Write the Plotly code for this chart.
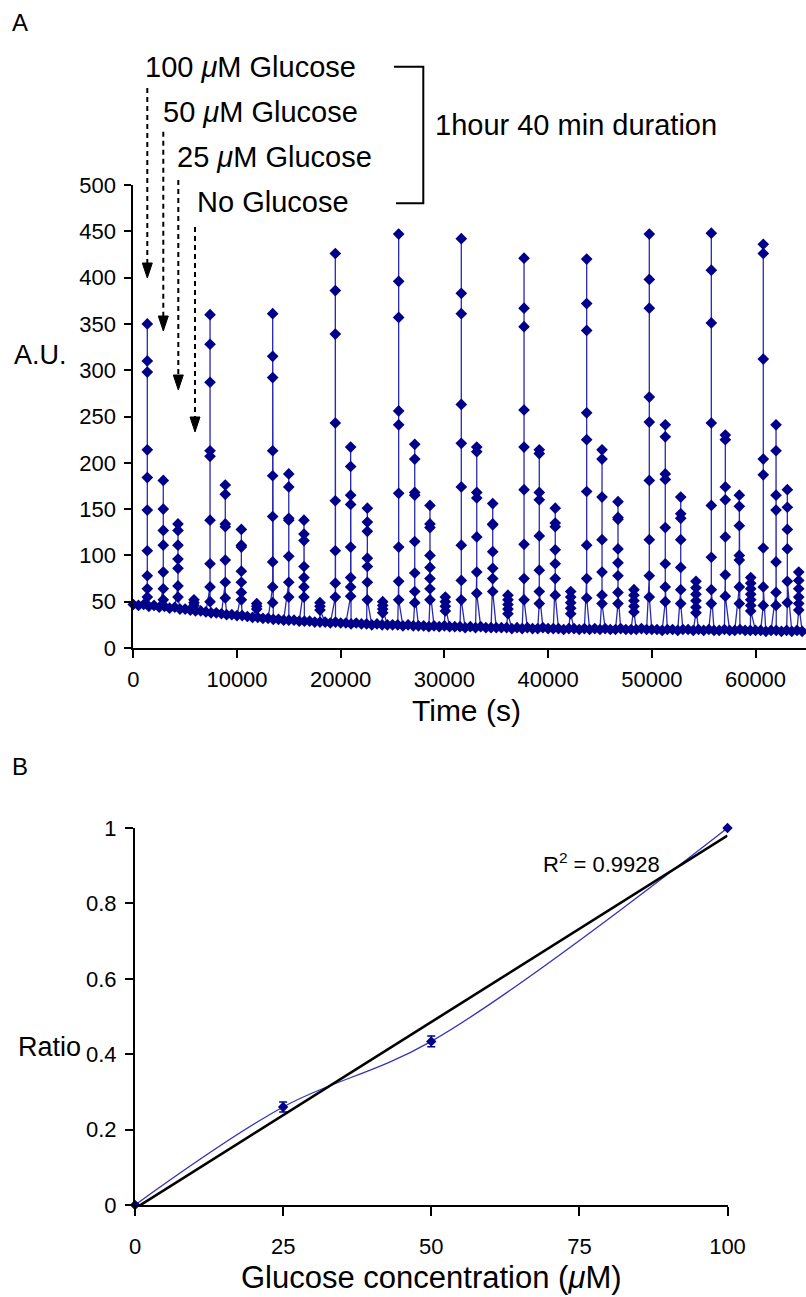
import plotly.graph_objects as go
import numpy as np

W, H = 806, 1297

# ---------------- Panel A data ----------------
baseline_time_s = list(range(0, 65000, 500))
baseline_au = [
    47, 46, 47, 45, 46, 44, 45, 43, 44, 42,
    42, 41, 40, 40, 39, 38, 38, 37, 36, 36,
    35, 35, 34, 33, 33, 32, 32, 31, 31, 30,
    30, 30, 29, 29, 29, 28, 28, 28, 27, 28,
    27, 27, 26, 27, 26, 26, 25, 26, 25, 25,
    25, 25, 24, 25, 24, 24, 24, 23, 24, 23,
    24, 23, 23, 23, 22, 23, 22, 23, 22, 22,
    22, 22, 22, 21, 22, 21, 22, 21, 21, 22,
    21, 21, 21, 20, 21, 21, 20, 21, 20, 21,
    20, 21, 20, 20, 21, 20, 20, 20, 21, 20,
    20, 20, 19, 20, 20, 19, 20, 20, 19, 20,
    19, 20, 19, 19, 20, 19, 19, 20, 19, 19,
    19, 19, 18, 19, 19, 18, 19, 18, 19, 18,
]

spike_time_s = [
    1350, 2890, 4310, 5850, 7400, 8870, 10420, 11900, 13440, 14990, 16460, 18000,
    19480, 20960, 22570, 24050, 25590, 27140, 28610, 30090, 31630, 33120, 34660, 36130,
    37680, 39150, 40690, 42180, 43720, 45200, 46740, 48280, 49760, 51300, 52790, 54260,
    55740, 57090, 58440, 59540, 60750, 61980, 63070, 64170,
]
spike_au = [
    [350, 310, 298, 214, 184, 149, 105, 78, 64, 55],
    [181, 150, 127, 111, 82, 64, 52],
    [134, 127, 111, 96, 86, 67, 55],
    [52, 49, 46],
    [360, 328, 287, 213, 207, 138, 91, 66, 50],
    [176, 166, 134, 131, 95, 71, 54],
    [128, 111, 109, 83, 71, 60, 52],
    [48, 45, 42],
    [361, 315, 292, 213, 186, 142, 93, 66, 49],
    [188, 174, 140, 138, 99, 71, 55],
    [138, 123, 116, 88, 76, 66, 55],
    [49, 45, 41],
    [426, 386, 339, 243, 159, 105, 70, 55],
    [217, 196, 165, 155, 109, 76, 66, 56],
    [151, 136, 126, 97, 88, 71, 52],
    [50, 46, 42, 38],
    [447, 396, 357, 256, 241, 167, 109, 72, 52],
    [220, 204, 168, 165, 115, 81, 61, 49],
    [154, 134, 130, 100, 87, 75, 64, 52],
    [55, 50, 45, 40],
    [442, 383, 361, 263, 221, 174, 111, 73, 52],
    [217, 212, 168, 162, 120, 82, 59],
    [156, 134, 133, 104, 86, 75, 61],
    [57, 52, 47, 42, 37],
    [421, 367, 347, 257, 217, 171, 112, 75, 52],
    [214, 210, 168, 160, 121, 84, 61, 48],
    [151, 135, 131, 106, 91, 75, 57],
    [61, 55, 49, 43, 37],
    [420, 372, 343, 254, 225, 169, 111, 75, 54],
    [214, 204, 163, 117, 82, 57, 48],
    [158, 141, 139, 107, 92, 78, 60, 48],
    [63, 57, 51, 45, 39],
    [447, 398, 367, 271, 244, 181, 117, 78, 55],
    [241, 228, 188, 182, 130, 91, 66, 50],
    [163, 145, 140, 117, 87, 63, 48],
    [72, 65, 58, 51, 44, 38],
    [448, 408, 351, 243, 154, 98, 63, 48],
    [230, 225, 174, 160, 120, 79, 56],
    [165, 153, 132, 100, 95, 66, 48],
    [76, 70, 64, 58, 52, 46, 40],
    [436, 426, 312, 204, 187, 108, 66, 46],
    [241, 213, 165, 149, 93, 60, 46],
    [171, 152, 128, 107, 72, 49],
    [82, 73, 64, 55, 48, 41],
]

a_yticks = list(range(0, 501, 50))
a_xticks = [0, 10000, 20000, 30000, 40000, 50000, 60000]

stimulus_labels = ["100 <i>μ</i>M Glucose", "50 <i>μ</i>M Glucose",
                   "25 <i>μ</i>M Glucose", "No Glucose"]
duration_label = "1hour 40 min duration"

# ---------------- Panel B data ----------------
glucose_um = [0, 25, 50, 100]
ratio = [0.0, 0.26, 0.434, 1.0]
ratio_err = [0.006, 0.013, 0.014, 0.006]
b_xticks = [0, 25, 50, 75, 100]
b_yticks = [0, 0.2, 0.4, 0.6, 0.8, 1]
r2_label = "R<sup>2</sup> = 0.9928"

# ---------------- build panel A series ----------------
# each spike: rise through half of its samples, peak, then fall through the rest
pts = []
for t, v in zip(baseline_time_s, baseline_au):
    pts.append((t, 0, v))
for t, vals in zip(spike_time_s, spike_au):
    d = sorted(vals, reverse=True)
    order = sorted(d[1::2]) + [d[0]] + d[2::2]
    for k, v in enumerate(order):
        pts.append((t, 1 + k, v))
pts.sort(key=lambda p: (p[0], p[1]))
ts = [p[0] for p in pts]
vs = [p[2] for p in pts]

# helpers: pixel -> paper
def px(x):
    return x / W

def py(y):
    return 1 - y / H

SANS = "Liberation Sans, Arial, sans-serif"

fig = go.Figure()

fig.add_trace(go.Scatter(
    x=ts, y=vs, mode="lines+markers",
    line=dict(color="#2a2aae", width=1.3),
    marker=dict(symbol="diamond", size=9, color="#00008a"),
    xaxis="x", yaxis="y", showlegend=False, cliponaxis=False,
))

# panel B
fig.add_trace(go.Scatter(
    x=glucose_um, y=ratio, mode="lines+markers",
    line=dict(color="#3535b5", width=1.3, shape="spline", smoothing=1.0),
    marker=dict(symbol="diamond", size=8, color="#00008a"),
    error_y=dict(type="data", array=ratio_err, color="#00008a", thickness=1.5, width=4),
    xaxis="x2", yaxis="y2", showlegend=False, cliponaxis=False,
))
slope, intercept = np.polyfit(glucose_um, ratio, 1)
fit_x = [min(glucose_um), max(glucose_um)]
fit_y = [slope * x + intercept for x in fit_x]
fig.add_trace(go.Scatter(
    x=fit_x, y=fit_y, mode="lines",
    line=dict(color="black", width=2.6),
    xaxis="x2", yaxis="y2", showlegend=False, cliponaxis=False,
))

axis_common = dict(showline=True, linecolor="black", linewidth=2, ticks="outside",
                   tickcolor="black", tickwidth=2, showgrid=False, zeroline=False,
                   mirror=False, automargin=False)
TICKFONT = dict(family=SANS, size=22, color="black")

fig.update_layout(
    width=W, height=H,
    margin=dict(l=0, r=0, t=0, b=0),
    paper_bgcolor="white", plot_bgcolor="white",
    font=dict(family=SANS, color="black"),
    xaxis=dict(domain=[px(133.3), 1.0], range=[0, 64870], tickvals=a_xticks,
               tickformat="d", ticklen=8, tickfont=TICKFONT, ticklabelstandoff=3,
               anchor="y", **axis_common),
    yaxis=dict(domain=[py(648), py(185)], range=[0, 500], tickvals=a_yticks,
               ticklen=7, tickfont=TICKFONT, ticklabelstandoff=4,
               anchor="x", **axis_common),
    xaxis2=dict(domain=[px(135), px(727.5)], range=[0, 100], tickvals=b_xticks,
                ticklen=9, tickfont=TICKFONT, ticklabelstandoff=12,
                anchor="y2", **axis_common),
    yaxis2=dict(domain=[py(1205), py(828)], range=[0, 1], tickvals=b_yticks,
                ticklen=8, tickfont=TICKFONT, ticklabelstandoff=4,
                anchor="x2", **axis_common),
)

ann = []
def text(x, y, s, size, xanchor="center"):
    ann.append(dict(x=px(x), y=py(y), xref="paper", yref="paper", text=s,
                    showarrow=False, xanchor=xanchor, yanchor="middle",
                    font=dict(family=SANS, size=size, color="black")))

text(20, 22, "A", 24)
text(20, 766, "B", 24)
text(40, 355, "A.U.", 27)
text(466, 710, "Time (s)", 30)
text(49, 1047, "Ratio", 27)
text(431, 1277, "Glucose concentration (<i>μ</i>M)", 31)

label_x = [143, 161, 175, 195]
label_y = [67, 112, 157, 202]
for s, lx, ly in zip(stimulus_labels, label_x, label_y):
    text(lx, ly, s, 29, xanchor="left")
text(433, 125, duration_label, 29, xanchor="left")
text(601, 863, r2_label, 22)

shapes = []
# bracket
shapes.append(dict(type="path", xref="paper", yref="paper",
                   path=f"M{px(394)},{py(66.7)} L{px(423.3)},{py(66.7)} L{px(423.3)},{py(203.3)} L{px(396)},{py(203.3)}",
                   line=dict(color="black", width=2)))
# dashed arrows
arrows = [(147.3, 88, 278), (163.3, 131.7, 331), (178.3, 180, 390), (195, 227, 432)]
for ax_, y0, y1 in arrows:
    shapes.append(dict(type="line", xref="paper", yref="paper",
                       x0=px(ax_), x1=px(ax_), y0=py(y0), y1=py(y1 - 13),
                       line=dict(color="black", width=2, dash="5px,4px")))
    shapes.append(dict(type="path", xref="paper", yref="paper",
                       path=f"M{px(ax_-5)},{py(y1-15)} L{px(ax_+5)},{py(y1-15)} L{px(ax_)},{py(y1)} Z",
                       fillcolor="black", line=dict(color="black", width=1)))

fig.update_layout(annotations=ann, shapes=shapes)
fig.write_html("out.html")
